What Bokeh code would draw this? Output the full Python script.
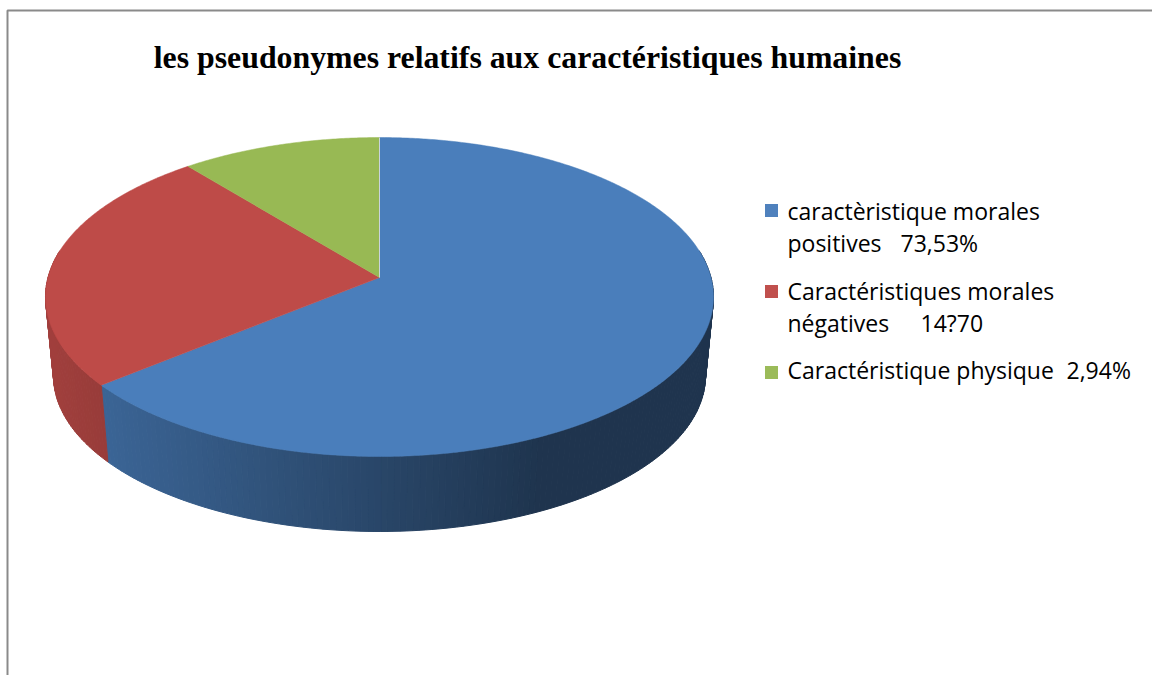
import math
from bokeh.plotting import figure
from bokeh.models import Range1d
from bokeh.core.properties import value
from bokeh.embed import file_html
from bokeh.resources import INLINE

# ---- data ----
title_text = "les pseudonymes relatifs aux caractéristiques  humaines"
legend_line1 = ["caractèristique morales", "Caractéristiques morales", "Caractéristique physique"]
legend_line2 = ["positives", "négatives", ""]
legend_values = ["73,53%", "14?70", "2,94%"]
# slice shares (percent)
shares = [64.1, 25.0, 10.9]
top_colors = ["#4A7EBB", "#BE4B48", "#98B954"]
legend_colors = ["#4F81BD", "#C0504D", "#9BBB59"]

# ---- geometry of the 3D pie (screen pixels) ----
cx, cy = 379.0, 277.0
a, b, k = 331.5, 157.1, 0.1223
s_bot, drop = 0.976, 79.3


def proj(theta_deg, bottom=False):
    t = math.radians(theta_deg)
    u, v = math.cos(t), math.sin(t)
    d = 1 + k * v
    X, Y = a * u / d, b * v / d
    if bottom:
        return cx + s_bot * X, cy + drop - s_bot * Y
    return cx + X, cy - Y


def shade(hexc, f):
    r, g, bb = int(hexc[1:3], 16), int(hexc[3:5], 16), int(hexc[5:7], 16)
    return "#%02x%02x%02x" % (int(r * f), int(g * f), int(bb * f))


def shade_factor(x):
    f = 0.85 - 0.43 * (x - 45) / 495.0
    return max(0.42, min(0.85, f))


# slice angular ranges, clockwise from 12 o'clock
total = sum(shares)
ranges = []
start = 90.0
for sh in shares:
    end = start - 360.0 * sh / total
    ranges.append((start, end))
    start = end

p = figure(width=1152, height=675, x_range=Range1d(0, 1152), y_range=Range1d(675, 0),
           output_backend="svg", toolbar_location=None, min_border=0,
           x_axis_type=None, y_axis_type=None)
p.grid.visible = False
p.outline_line_color = None
p.background_fill_color = "white"
p.border_fill_color = "white"

# chart frame
p.line(x=[1160, 7, 7], y=[10, 10, 690], line_color="#8a8a8a", line_width=2)

# side walls (front part)
sxs, sys_, scol = [], [], []
for (st, en), col in zip(ranges, top_colors):
    hi, lo = st, en
    for off in (0.0, -360.0, 360.0):
        h2, l2 = min(hi + off, 10.0), max(lo + off, -190.0)
        if h2 <= l2:
            continue
        n = max(1, int(math.ceil((h2 - l2) / 1.0)))
        for i in range(n):
            t1 = h2 - (h2 - l2) * i / n
            t2 = h2 - (h2 - l2) * (i + 1) / n
            p1, p2 = proj(t1), proj(t2)
            q2, q1 = proj(t2, True), proj(t1, True)
            xs = [p1[0], p2[0], q2[0], q1[0]]
            ys = [p1[1], p2[1], q2[1], q1[1]]
            mx = (p1[0] + p2[0]) / 2
            sxs.append(xs)
            sys_.append(ys)
            scol.append(shade(col, shade_factor(mx)))
p.patches(xs=sxs, ys=sys_, fill_color=scol, line_color=scol, line_width=1)

# top faces
txs, tys = [], []
for (st, en) in ranges:
    n = max(2, int(abs(st - en) / 0.5))
    pts = [proj(st - (st - en) * i / n) for i in range(n + 1)]
    txs.append([cx] + [q[0] for q in pts])
    tys.append([cy] + [q[1] for q in pts])
p.patches(xs=txs, ys=tys, fill_color=top_colors, line_color=top_colors, line_width=0.5)

# light edge at 12 o'clock
tp = proj(90.0)
p.line(x=[cx, tp[0]], y=[cy, tp[1]], line_color="#c9d3dc", line_width=1)

# title
p.text(x=[531], y=[57], text=[title_text], text_font=value("Liberation Serif"),
       text_font_style="bold", text_font_size="31.8px", text_align="center",
       text_baseline="alphabetic", text_color="black")

# legend
fs = "23px"
sq_y = [210, 291, 372]
line1_y = [210, 290, 369]
line2_y = [242, 322]
val_x = [900, 920, 1066]
val_y = [242, 322, 369]
p.rect(x=[771] * 3, y=sq_y, width=13, height=13, fill_color=legend_colors, line_color=None)
p.text(x=[787] * 3, y=line1_y, text=legend_line1, text_font=value("Open Sans"),
       text_font_size=fs, text_baseline="alphabetic", text_color="black")
p.text(x=[787] * 2, y=line2_y, text=legend_line2[:2], text_font=value("Open Sans"),
       text_font_size=fs, text_baseline="alphabetic", text_color="black")
p.text(x=val_x, y=val_y, text=legend_values, text_font=value("Open Sans"),
       text_font_size=fs, text_baseline="alphabetic", text_color="black")

open("out.html", "w").write(file_html(p, INLINE))
